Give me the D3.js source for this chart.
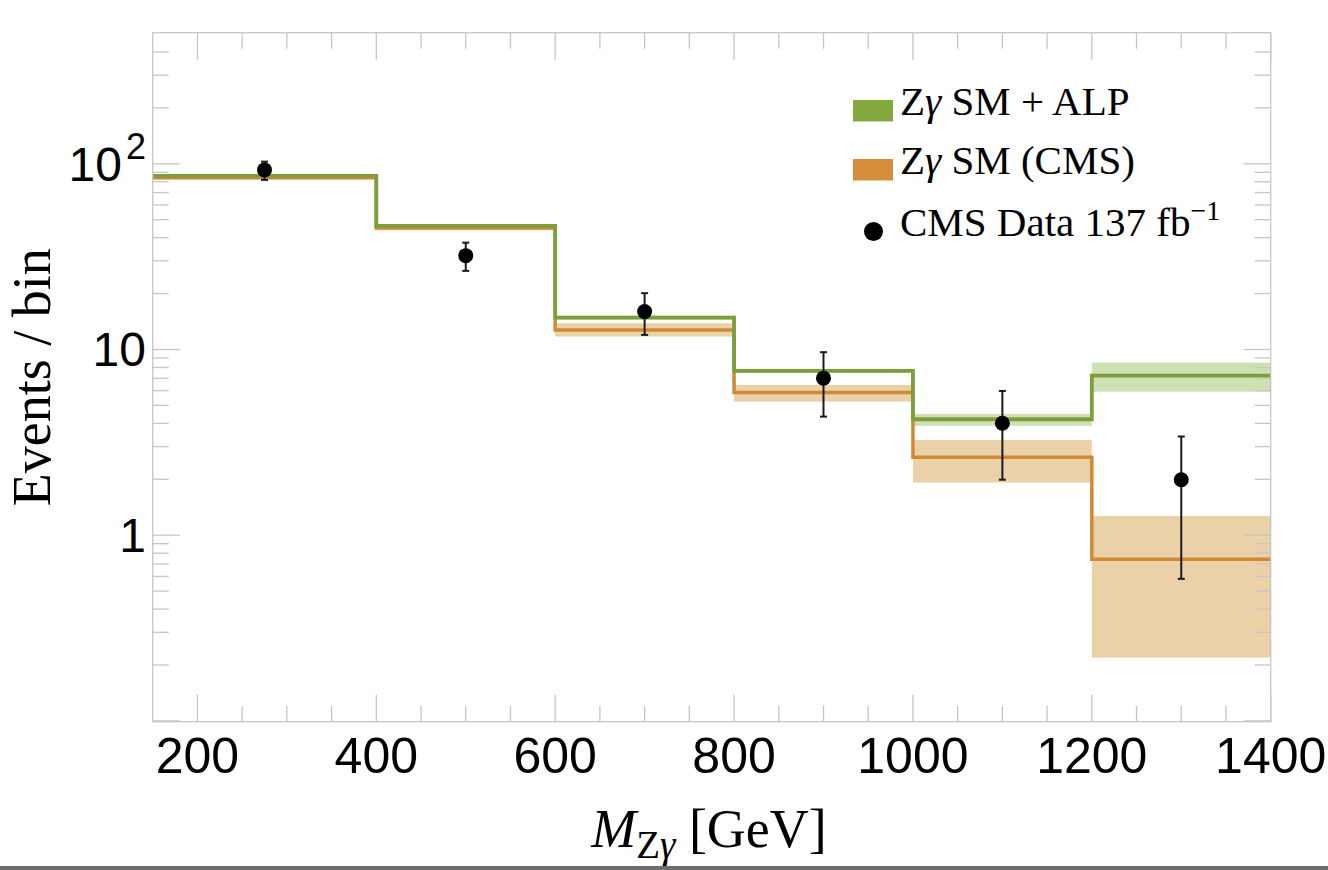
<!DOCTYPE html>
<html>
<head>
<meta charset="utf-8">
<script src="https://cdn.jsdelivr.net/npm/d3@7"></script>
<style>
  html, body { margin: 0; padding: 0; background: #fff; }
  svg { display: block; }
</style>
</head>
<body>
<svg id="chart" width="1328" height="870"></svg>
<script>
// bin edges in GeV (last edge closes the final bin)
var binEdges = [150, 400, 600, 800, 1000, 1200, 1400];

// SM prediction (CMS) per bin, with its uncertainty band
var smValues = [84, 45.1, 12.75, 5.86, 2.63, 0.743];
var smLow    = [82.5, 43.8, 11.74, 5.24, 1.92, 0.219];
var smHigh   = [85.5, 46.5, 13.85, 6.45, 3.25, 1.27];

// SM + ALP per bin, with its band
var alpValues = [86, 46.3, 14.85, 7.67, 4.21, 7.24];
var alpLow    = [85, 45.6, 14.5, 7.5, 3.88, 5.93];
var alpHigh   = [87, 47.0, 15.2, 7.85, 4.50, 8.50];

// CMS data points
var dataX    = [275, 500, 700, 900, 1100, 1300];
var dataY    = [92.7, 32.0, 16.0, 7.01, 4.01, 1.99];
var dataLow  = [81.9, 26.5, 11.98, 4.35, 1.99, 0.582];
var dataHigh = [102.7, 37.6, 20.1, 9.67, 5.98, 3.40];

// axis ticks
var xMajor = [200, 400, 600, 800, 1000, 1200, 1400];
var yMajor = [0.1, 1, 10, 100];
var yLabels = [{v: 1, t: "1"}, {v: 10, t: "10"}, {v: 100, t: "10", sup: "2"}];

var svg = d3.select("#chart");
// plot box (window.top is reserved, so use own names)
var pL = 152.7, pR = 1270.7, pT = 32.7, pB = 721.7;

var x = d3.scaleLinear().domain([150, 1400]).range([pL, pR]);
var y = d3.scaleLog().domain([0.099, 508]).range([pB, pT]);

var green = "#7c9f3b", greenBand = "#cfe0b2";
var orange = "#d08a35", orangeBand = "#ebd1a8";
var frameCol = "#c6c6c6";
var serif = "'Liberation Serif', 'Times New Roman', serif";
var sans = "'Liberation Sans', Arial, Helvetica, sans-serif";

// bands
function drawBands(lo, hi, col) {
    svg.append("g").selectAll("rect").data(lo).enter().append("rect")
        .attr("x", function(d, i) { return x(binEdges[i]); })
        .attr("width", function(d, i) { return x(binEdges[i + 1]) - x(binEdges[i]); })
        .attr("y", function(d, i) { return y(hi[i]); })
        .attr("height", function(d, i) { return y(lo[i]) - y(hi[i]); })
        .style("fill", col);
}
drawBands(smLow, smHigh, orangeBand);
drawBands(alpLow, alpHigh, greenBand);

// step lines
function stepPoints(vals) {
    var pts = vals.map(function(v, i) { return [binEdges[i], v]; });
    pts.push([binEdges[binEdges.length - 1], vals[vals.length - 1]]);
    return pts;
}
var step = d3.line()
    .x(function(d) { return x(d[0]); })
    .y(function(d) { return y(d[1]); })
    .curve(d3.curveStepAfter);

svg.append("path").datum(stepPoints(smValues)).attr("d", step)
    .style("fill", "none").style("stroke", orange).style("stroke-width", 3.5);
svg.append("path").datum(stepPoints(alpValues)).attr("d", step)
    .style("fill", "none").style("stroke", green).style("stroke-width", 3.8);

// frame and ticks
var axes = svg.append("g").style("stroke", frameCol).style("stroke-width", 1.3);
axes.append("rect").attr("x", pL).attr("y", pT)
    .attr("width", pR - pL).attr("height", pB - pT).style("fill", "none");

var xMinor = d3.range(150, 1401, 50).filter(function(v) { return xMajor.indexOf(v) < 0 && v > 150; });
function xTicks(vals, len) {
    vals.forEach(function(v) {
        axes.append("line").attr("x1", x(v)).attr("x2", x(v)).attr("y1", pB).attr("y2", pB - len);
        axes.append("line").attr("x1", x(v)).attr("x2", x(v)).attr("y1", pT).attr("y2", pT + len);
    });
}
xTicks(xMajor, 27);
xTicks(xMinor, 16);

var yMinor = [];
[0.1, 1, 10, 100].forEach(function(dec) {
    for (var k = 2; k <= 9; k++) {
        var v = dec * k;
        if (y(v) > pT + 3) yMinor.push(v);
    }
});
function yTicks(vals, len) {
    vals.forEach(function(v) {
        axes.append("line").attr("y1", y(v)).attr("y2", y(v)).attr("x1", pL).attr("x2", pL + len);
        axes.append("line").attr("y1", y(v)).attr("y2", y(v)).attr("x1", pR).attr("x2", pR - len);
    });
}
yTicks(yMajor, 27);
yTicks(yMinor, 16);

// tick labels
svg.append("g").selectAll("text").data(xMajor).enter().append("text")
    .attr("x", function(d) { return x(d); })
    .attr("y", 773)
    .attr("text-anchor", "middle")
    .style("font-family", sans).style("font-size", "50px").style("fill", "#000")
    .text(function(d) { return d; });

var yl = svg.append("g").selectAll("text").data(yLabels).enter().append("text")
    .attr("x", 146)
    .attr("y", function(d) { return y(d.v) + 17; })
    .attr("text-anchor", "end")
    .style("font-family", sans).style("font-size", "48px").style("fill", "#000");
yl.append("tspan").text(function(d) { return d.t; });
yl.filter(function(d) { return d.sup; }).append("tspan")
    .attr("dy", -22).attr("dx", 4).style("font-size", "36px")
    .text(function(d) { return d.sup; });

// data points with error bars
var pts = svg.append("g");
dataX.forEach(function(v, i) {
    var cx = x(v);
    pts.append("line").attr("x1", cx).attr("x2", cx)
        .attr("y1", y(dataLow[i])).attr("y2", y(dataHigh[i]))
        .style("stroke", "#1a1a1a").style("stroke-width", 2);
    [dataLow[i], dataHigh[i]].forEach(function(e) {
        pts.append("line").attr("x1", cx - 3.5).attr("x2", cx + 3.5)
            .attr("y1", y(e)).attr("y2", y(e))
            .style("stroke", "#1a1a1a").style("stroke-width", 2);
    });
    pts.append("circle").attr("cx", cx).attr("cy", y(dataY[i])).attr("r", 7.5).style("fill", "#000");
});

// legend
var leg = svg.append("g").style("font-family", serif).style("font-size", "41px").style("fill", "#000");
leg.append("rect").attr("x", 853).attr("y", 100).attr("width", 40).attr("height", 21.5).style("fill", "#83a93f");
leg.append("rect").attr("x", 853).attr("y", 159).attr("width", 40).attr("height", 21.5).style("fill", "#d48d3b");
leg.append("circle").attr("cx", 873.5).attr("cy", 231.5).attr("r", 9.5).style("fill", "#000");

var t1 = leg.append("text").attr("x", 900).attr("y", 115);
t1.append("tspan").text("Z");
t1.append("tspan").style("font-style", "italic").text("\u03b3");
t1.append("tspan").text(" SM + ALP");

var t2 = leg.append("text").attr("x", 900).attr("y", 173.5);
t2.append("tspan").text("Z");
t2.append("tspan").style("font-style", "italic").text("\u03b3");
t2.append("tspan").text(" SM (CMS)");

var t3 = leg.append("text").attr("x", 900).attr("y", 236);
t3.append("tspan").text("CMS Data 137 fb");
t3.append("tspan").attr("dy", -16).style("font-size", "28px").text("\u22121");

// axis titles
var xt = svg.append("text").attr("x", 709).attr("y", 847).attr("text-anchor", "middle")
    .style("font-family", serif).style("font-size", "54px").style("fill", "#000");
xt.append("tspan").style("font-style", "italic").text("M");
xt.append("tspan").attr("dy", 11).style("font-size", "39px").text("Z");
xt.append("tspan").style("font-size", "39px").style("font-style", "italic").text("\u03b3");
xt.append("tspan").attr("dy", -11).text(" [GeV]");

svg.append("text").attr("transform", "translate(50," + ((pT + pB) / 2) + ") rotate(-90)")
    .attr("text-anchor", "middle")
    .style("font-family", serif).style("font-size", "54px").style("fill", "#000")
    .text("Events / bin");

// grey strip along the bottom edge of the screenshot
svg.append("rect").attr("x", 0).attr("y", 866).attr("width", 1328).attr("height", 4).style("fill", "#6e6e6e");
</script>
</body>
</html>
